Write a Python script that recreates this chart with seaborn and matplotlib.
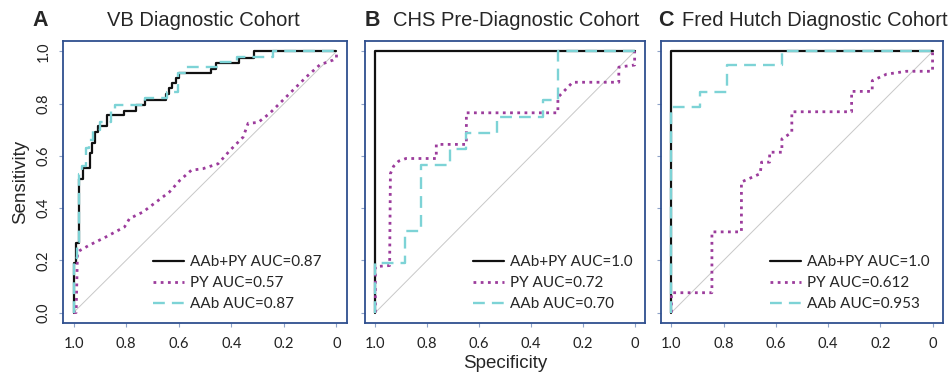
import matplotlib
matplotlib.use("Agg")
import matplotlib.pyplot as plt
import seaborn as sns

sns.set_theme(style="white")
plt.rcParams['font.family'] = ['Liberation Sans', 'DejaVu Sans']

# ---------------- data ----------------
panel_letters = ["A", "B", "C"]
panel_titles = ["VB Diagnostic Cohort", "CHS Pre-Diagnostic Cohort", "Fred Hutch Diagnostic Cohort"]
x_ticks = [1.0, 0.8, 0.6, 0.4, 0.2, 0.0]
x_tick_labels = ["1.0", "0.8", "0.6", "0.4", "0.2", "0"]
y_ticks = [0.0, 0.2, 0.4, 0.6, 0.8, 1.0]
y_tick_labels = ["0.0", "0.2", "0.4", "0.6", "0.8", "1.0"]

legend_A = ["AAb+PY AUC=0.87", "PY AUC=0.57", "AAb AUC=0.87"]
legend_B = ["AAb+PY AUC=1.0", "PY AUC=0.72", "AAb AUC=0.70"]
legend_C = ["AAb+PY AUC=1.0", "PY AUC=0.612", "AAb AUC=0.953"]

# Panel A  (step corners for AAb+PY and AAb; vertices for PY)
A_combo_spec = [1.0, 1.0, 0.99, 0.98, 0.965, 0.939, 0.93, 0.917, 0.907, 0.872, 0.809, 0.762, 0.727,
                0.648, 0.638, 0.625, 0.61, 0.597, 0.476, 0.457, 0.37, 0.315, 0.0]
A_combo_sens = [0.0, 0.19, 0.265, 0.51, 0.552, 0.612, 0.65, 0.692, 0.714, 0.756, 0.772, 0.794, 0.813,
                0.838, 0.86, 0.88, 0.90, 0.919, 0.934, 0.955, 0.975, 1.0, 1.0]
A_py_spec = [1.0, 0.99, 0.985, 0.977, 0.94, 0.876, 0.806, 0.787, 0.736, 0.685, 0.635, 0.596, 0.552,
             0.508, 0.45, 0.406, 0.355, 0.336, 0.298, 0.254, 0.203, 0.165, 0.114, 0.063, 0.013, 0.0, 0.0]
A_py_sens = [0.0, 0.0, 0.23, 0.237, 0.258, 0.29, 0.328, 0.36, 0.385, 0.424, 0.462, 0.506, 0.545,
             0.551, 0.57, 0.62, 0.672, 0.725, 0.728, 0.763, 0.814, 0.852, 0.903, 0.949, 0.967, 0.975, 1.0]
A_aab_spec = [1.0, 1.0, 0.988, 0.978, 0.967, 0.954, 0.94, 0.926, 0.898, 0.857, 0.844, 0.73, 0.646,
              0.603, 0.572, 0.45, 0.38, 0.24, 0.0]
A_aab_sens = [0.0, 0.21, 0.27, 0.53, 0.56, 0.63, 0.66, 0.70, 0.73, 0.775, 0.795, 0.82, 0.845,
              0.916, 0.94, 0.958, 0.978, 1.0, 1.0]

# Panel B
B_combo_spec = [1.0, 1.0, 0.0]
B_combo_sens = [0.0, 1.0, 1.0]
B_py_spec = [1.0, 1.0, 0.945, 0.942, 0.93, 0.91, 0.882, 0.765, 0.765, 0.649, 0.649, 0.296, 0.296,
             0.239, 0.061, 0.061, 0.0, 0.0]
B_py_sens = [0.0, 0.176, 0.18, 0.532, 0.56, 0.58, 0.59, 0.59, 0.644, 0.644, 0.765, 0.765, 0.824,
             0.882, 0.882, 0.94, 0.948, 1.0]
B_aab_spec = [1.0, 1.0, 0.884, 0.824, 0.712, 0.649, 0.53, 0.355, 0.296, 0.0]
B_aab_sens = [0.0, 0.188, 0.313, 0.566, 0.627, 0.688, 0.75, 0.814, 1.0, 1.0]

# Panel C
C_combo_spec = [1.0, 1.0, 0.0]
C_combo_sens = [0.0, 1.0, 1.0]
C_py_spec = [1.0, 1.0, 0.845, 0.845, 0.732, 0.732, 0.66, 0.655, 0.624, 0.624, 0.577, 0.577, 0.539,
             0.539, 0.31, 0.31, 0.231, 0.231, 0.176, 0.1, 0.0, 0.0]
C_py_sens = [0.0, 0.076, 0.076, 0.309, 0.309, 0.5, 0.532, 0.576, 0.576, 0.614, 0.614, 0.665, 0.69,
             0.769, 0.769, 0.847, 0.847, 0.888, 0.913, 0.924, 0.924, 1.0]
C_aab_spec = [1.0, 1.0, 0.892, 0.787, 0.577, 0.0]
C_aab_sens = [0.0, 0.789, 0.843, 0.949, 1.0, 1.0]

panels = [
    (A_combo_spec, A_combo_sens, A_py_spec, A_py_sens, A_aab_spec, A_aab_sens, legend_A),
    (B_combo_spec, B_combo_sens, B_py_spec, B_py_sens, B_aab_spec, B_aab_sens, legend_B),
    (C_combo_spec, C_combo_sens, C_py_spec, C_py_sens, C_aab_spec, C_aab_sens, legend_C),
]

# ---------------- style ----------------
W, H = 953, 378
fig = plt.figure(figsize=(W / 100, H / 100), dpi=100)

box_px = [(63, 347), (365, 645), (661, 943)]
top_px, bot_px = 41, 323
legend_x_px = [153, 473, 770]

col_combo = "#111111"
col_py = "#9C3C9C"
col_aab = "#7DD3D6"
spine_col = "#2F4F8F"
tick_font = ['Lato', 'DejaVu Sans']

for i, (cs, cy, ps, py, as_, ay, labels) in enumerate(panels):
    l, r = box_px[i]
    ax = fig.add_axes([l / W, (H - bot_px) / H, (r - l) / W, (bot_px - top_px) / H])
    ax.plot([1, 0], [0, 1], color="#C8C8C8", lw=0.7, zorder=1)
    sns.lineplot(x=cs, y=cy, ax=ax, sort=False, estimator=None, color=col_combo, lw=1.6,
                 drawstyle="steps-post", label=labels[0], zorder=2)
    sns.lineplot(x=ps, y=py, ax=ax, sort=False, estimator=None, color=col_py, lw=2.0,
                 linestyle=(0, (1.0, 1.6)), label=labels[1], zorder=3)
    sns.lineplot(x=as_, y=ay, ax=ax, sort=False, estimator=None, color=col_aab, lw=1.7,
                 linestyle=(0, (5, 3)), drawstyle="steps-post", label=labels[2], zorder=4)
    ax.set_xlim(1.04, -0.04)
    ax.set_ylim(-0.04, 1.04)
    ax.set_xticks(x_ticks)
    ax.set_xticklabels(x_tick_labels, fontsize=10.5, family=tick_font, color="#222222")
    ax.set_yticks(y_ticks)
    if i == 0:
        ax.set_yticklabels(y_tick_labels, fontsize=10.5, family=tick_font, rotation=90,
                           va="center", color="#222222")
        ax.set_ylabel("Sensitivity", fontsize=13.5, labelpad=5)
    else:
        ax.set_yticklabels([])
        ax.set_ylabel("")
    if i == 1:
        ax.set_xlabel("Specificity", fontsize=13.5, labelpad=3)
    else:
        ax.set_xlabel("")
    ax.tick_params(axis="both", bottom=True, left=True, direction="out", length=3,
                   width=0.8, color="#8FA3C8")
    ax.tick_params(axis="x", pad=7)
    ax.tick_params(axis="y", pad=6)
    for s in ax.spines.values():
        s.set_color(spine_col)
        s.set_linewidth(1.3)
    lx = (legend_x_px[i] - l) / (r - l)
    ax.legend(loc="upper left", bbox_to_anchor=(lx, 0.24), frameon=False,
              prop={'family': tick_font, 'size': 11}, borderpad=0, borderaxespad=0,
              handlelength=2.0, handletextpad=0.45, labelspacing=0.45)

# titles
ty = 1 - 20 / H
fig.text(32 / W, ty, panel_letters[0], fontsize=15.5, fontweight="bold", va="center", ha="left")
fig.text(203 / W, ty, panel_titles[0], fontsize=14.5, va="center", ha="center")
fig.text(365 / W, ty, panel_letters[1], fontsize=15.5, fontweight="bold", va="center", ha="left")
fig.text(393 / W, ty, panel_titles[1], fontsize=14.5, va="center", ha="left")
fig.text(658 / W, ty, panel_letters[2], fontsize=15.5, fontweight="bold", va="center", ha="left")
fig.text(682 / W, ty, panel_titles[2], fontsize=14.5, va="center", ha="left")

fig.savefig("out.png", dpi=100)
